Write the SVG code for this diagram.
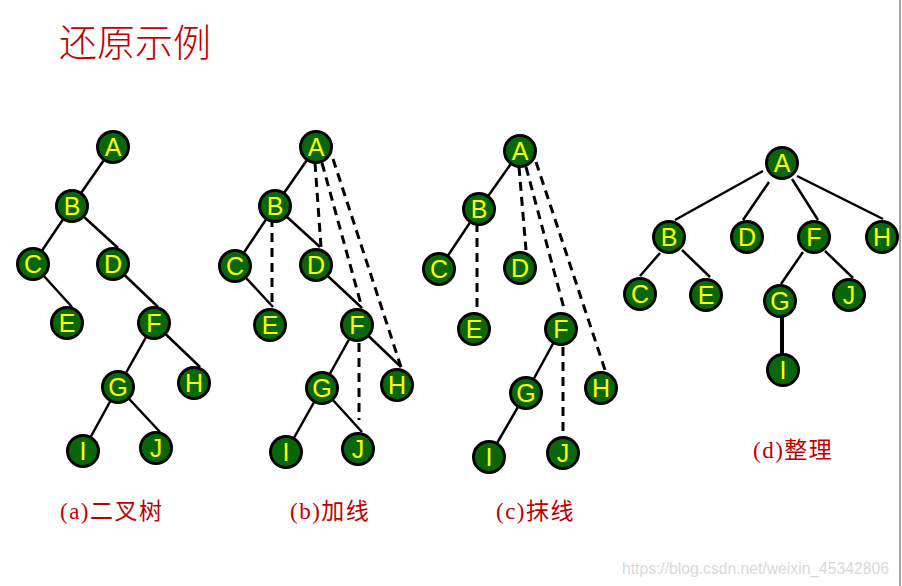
<svg xmlns="http://www.w3.org/2000/svg" width="902" height="586" viewBox="0 0 902 586">
<style>
.n circle{fill:#086808;stroke:#000;stroke-width:3}
.n text{fill:#ffff00;font-family:"Liberation Sans",Arial,sans-serif;font-size:25px;text-anchor:middle;dominant-baseline:central}
.s{stroke:#000;stroke-width:2.5;fill:none}
.d{stroke:#000;stroke-width:3;fill:none;stroke-dasharray:9 6}
.cap{fill:#c00000;font-family:"Liberation Serif","Noto Sans CJK SC",serif;font-size:23px;letter-spacing:1.5px}
</style>
<rect width="902" height="586" fill="#fff"/>
<line x1="900" y1="0" x2="900" y2="586" stroke="#a0a4a8" stroke-width="2"/>
<text x="59" y="56" fill="#c00000" font-family="'Noto Sans CJK SC',serif" font-size="38" font-weight="300">还原示例</text>

<g id="connectors">
<!-- a -->
<line class="s" x1="113" y1="147" x2="72" y2="206"/>
<line class="s" x1="72" y1="206" x2="33" y2="264"/>
<line class="s" x1="72" y1="206" x2="118" y2="248"/>
<line class="s" x1="33" y1="264" x2="72" y2="307"/>
<line class="s" x1="113" y1="264" x2="158" y2="307"/>
<line class="s" x1="154" y1="323" x2="118" y2="387"/>
<line class="s" x1="154" y1="323" x2="200" y2="367"/>
<line class="s" x1="118" y1="387" x2="83" y2="451"/>
<line class="s" x1="118" y1="387" x2="160" y2="432"/>
<!-- b -->
<line class="s" x1="316" y1="147" x2="275" y2="206"/>
<line class="s" x1="275" y1="206" x2="235" y2="266"/>
<line class="s" x1="275" y1="206" x2="320" y2="247"/>
<line class="s" x1="235" y1="266" x2="273" y2="307"/>
<line class="s" x1="316" y1="265" x2="362" y2="308"/>
<line class="s" x1="357" y1="325" x2="322" y2="388"/>
<line class="s" x1="357" y1="325" x2="401" y2="367"/>
<line class="s" x1="322" y1="388" x2="286" y2="452"/>
<line class="s" x1="322" y1="388" x2="362" y2="432"/>
<line class="d" x1="315" y1="163" x2="321" y2="247"/>
<line class="d" x1="322" y1="163" x2="362" y2="308"/>
<line class="d" x1="333" y1="159" x2="401" y2="367"/>
<line class="d" x1="272" y1="218" x2="272" y2="307"/>
<line class="d" x1="359" y1="343" x2="359" y2="420"/>
<!-- c -->
<line class="s" x1="520" y1="151" x2="479" y2="209"/>
<line class="s" x1="479" y1="209" x2="439" y2="269"/>
<line class="s" x1="561" y1="329" x2="526" y2="393"/>
<line class="s" x1="526" y1="393" x2="489" y2="457"/>
<line class="d" x1="519" y1="167" x2="526" y2="250"/>
<line class="d" x1="526" y1="167" x2="565" y2="312"/>
<line class="d" x1="536" y1="162" x2="605" y2="370"/>
<line class="d" x1="477" y1="223" x2="477" y2="310"/>
<line class="d" x1="563" y1="347" x2="563" y2="435"/>
<!-- d -->
<line class="s" x1="763" y1="171" x2="675" y2="220"/>
<line class="s" x1="769" y1="182" x2="743" y2="220"/>
<line class="s" x1="792" y1="179" x2="818" y2="220"/>
<line class="s" x1="797" y1="176" x2="883" y2="219"/>
<line class="s" x1="660" y1="253" x2="640" y2="276"/>
<line class="s" x1="682" y1="250" x2="710" y2="277"/>
<line class="s" x1="803" y1="252" x2="781" y2="284"/>
<line class="s" x1="825" y1="251" x2="853" y2="278"/>
<line x1="782" y1="316" x2="782" y2="362" stroke="#000" stroke-width="4"/>
</g>

<g id="tree-a">
<g id="a-A" class="n"><circle cx="113" cy="147" r="15.5"/><text x="113" y="147">A</text></g>
<g id="a-B" class="n"><circle cx="72" cy="206" r="15.5"/><text x="72" y="206">B</text></g>
<g id="a-C" class="n"><circle cx="33" cy="264" r="15.5"/><text x="33" y="264">C</text></g>
<g id="a-D" class="n"><circle cx="113" cy="264" r="15.5"/><text x="113" y="264">D</text></g>
<g id="a-E" class="n"><circle cx="67" cy="323" r="15.5"/><text x="67" y="323">E</text></g>
<g id="a-F" class="n"><circle cx="154" cy="323" r="15.5"/><text x="154" y="323">F</text></g>
<g id="a-G" class="n"><circle cx="118" cy="387" r="15.5"/><text x="118" y="387">G</text></g>
<g id="a-H" class="n"><circle cx="194" cy="383" r="15.5"/><text x="194" y="383">H</text></g>
<g id="a-I" class="n"><circle cx="83" cy="451" r="15.5"/><text x="83" y="451">I</text></g>
<g id="a-J" class="n"><circle cx="156" cy="448" r="15.5"/><text x="156" y="448">J</text></g>
</g>
<g id="tree-b">
<g id="b-A" class="n"><circle cx="316" cy="147" r="15.5"/><text x="316" y="147">A</text></g>
<g id="b-B" class="n"><circle cx="275" cy="206" r="15.5"/><text x="275" y="206">B</text></g>
<g id="b-C" class="n"><circle cx="235" cy="266" r="15.5"/><text x="235" y="266">C</text></g>
<g id="b-D" class="n"><circle cx="316" cy="265" r="15.5"/><text x="316" y="265">D</text></g>
<g id="b-E" class="n"><circle cx="270" cy="325" r="15.5"/><text x="270" y="325">E</text></g>
<g id="b-F" class="n"><circle cx="357" cy="325" r="15.5"/><text x="357" y="325">F</text></g>
<g id="b-G" class="n"><circle cx="322" cy="388" r="15.5"/><text x="322" y="388">G</text></g>
<g id="b-H" class="n"><circle cx="397" cy="385" r="15.5"/><text x="397" y="385">H</text></g>
<g id="b-I" class="n"><circle cx="286" cy="452" r="15.5"/><text x="286" y="452">I</text></g>
<g id="b-J" class="n"><circle cx="358" cy="449" r="15.5"/><text x="358" y="449">J</text></g>
</g>
<g id="tree-c">
<g id="c-A" class="n"><circle cx="520" cy="151" r="15.5"/><text x="520" y="151">A</text></g>
<g id="c-B" class="n"><circle cx="479" cy="209" r="15.5"/><text x="479" y="209">B</text></g>
<g id="c-C" class="n"><circle cx="439" cy="269" r="15.5"/><text x="439" y="269">C</text></g>
<g id="c-D" class="n"><circle cx="520" cy="268" r="15.5"/><text x="520" y="268">D</text></g>
<g id="c-E" class="n"><circle cx="474" cy="329" r="15.5"/><text x="474" y="329">E</text></g>
<g id="c-F" class="n"><circle cx="561" cy="329" r="15.5"/><text x="561" y="329">F</text></g>
<g id="c-G" class="n"><circle cx="526" cy="393" r="15.5"/><text x="526" y="393">G</text></g>
<g id="c-H" class="n"><circle cx="601" cy="388" r="15.5"/><text x="601" y="388">H</text></g>
<g id="c-I" class="n"><circle cx="489" cy="457" r="15.5"/><text x="489" y="457">I</text></g>
<g id="c-J" class="n"><circle cx="563" cy="453" r="15.5"/><text x="563" y="453">J</text></g>
</g>
<g id="tree-d">
<g id="d-A" class="n"><circle cx="782" cy="163" r="15.5"/><text x="782" y="163">A</text></g>
<g id="d-B" class="n"><circle cx="669" cy="237" r="15.5"/><text x="669" y="237">B</text></g>
<g id="d-D" class="n"><circle cx="747" cy="237" r="15.5"/><text x="747" y="237">D</text></g>
<g id="d-F" class="n"><circle cx="814" cy="237" r="15.5"/><text x="814" y="237">F</text></g>
<g id="d-H" class="n"><circle cx="882" cy="237" r="15.5"/><text x="882" y="237">H</text></g>
<g id="d-C" class="n"><circle cx="640" cy="294" r="15.5"/><text x="640" y="294">C</text></g>
<g id="d-E" class="n"><circle cx="706" cy="295" r="15.5"/><text x="706" y="295">E</text></g>
<g id="d-G" class="n"><circle cx="780" cy="301" r="15.5"/><text x="780" y="301">G</text></g>
<g id="d-J" class="n"><circle cx="849" cy="295" r="15.5"/><text x="849" y="295">J</text></g>
<g id="d-I" class="n"><circle cx="783" cy="370" r="15.5"/><text x="783" y="370">I</text></g>
</g>

<text class="cap" x="60" y="519">(a)二叉树</text>
<text class="cap" x="290" y="519">(b)加线</text>
<text class="cap" x="496" y="519">(c)抹线</text>
<text class="cap" x="753" y="458">(d)整理</text>
<text x="622" y="574" fill="#d9d9d9" font-family="'Liberation Sans',Arial,sans-serif" font-size="15.7">https://blog.csdn.net/weixin_45342806</text>
</svg>
